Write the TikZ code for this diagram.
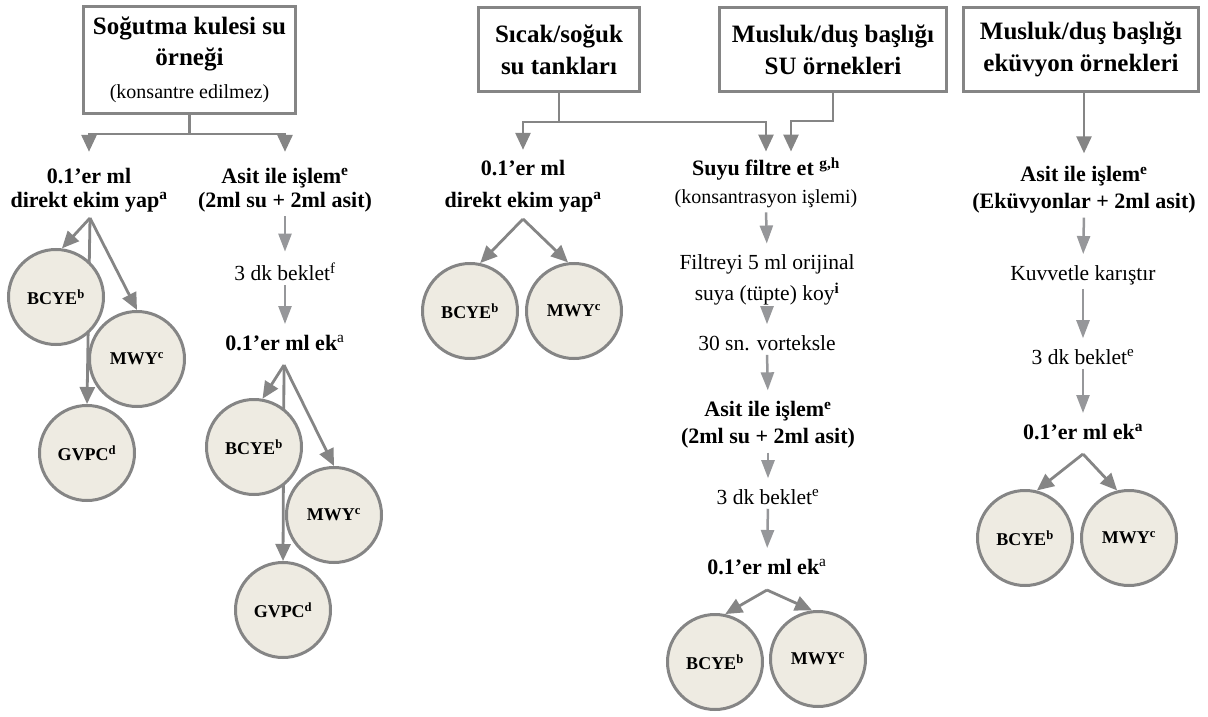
\documentclass[tikz,border=0pt]{standalone}
\usepackage{fontspec}
\setmainfont{Liberation Serif}
\usetikzlibrary{arrows.meta,backgrounds}

\definecolor{framegray}{HTML}{858585}
\definecolor{arrowgray}{HTML}{96979A}
\definecolor{platefill}{HTML}{EEEBE2}

\tikzset{
  box/.style={draw=framegray, line width=3pt, align=center, inner sep=0pt,
    font=\fontsize{25}{31}\selectfont\bfseries},
  tag/.style={align=center, inner sep=1pt, font=\fontsize{22}{25}\selectfont\bfseries},
  note/.style={align=center, inner sep=1pt, font=\fontsize{21.5}{31}\selectfont},
  plate/.style={circle, draw=framegray, line width=3pt, fill=platefill,
    minimum size=95pt, inner sep=0pt, font=\fontsize{18}{20}\selectfont\bfseries},
  conn/.style={draw=framegray, line width=2.8pt, -{Triangle[width=15pt,length=17pt]}},
  steparrow/.style={draw=arrowgray, line width=2.5pt, shorten <=3pt, shorten >=10pt,
    -{Triangle[width=13pt,length=18pt]}},
}

\begin{document}
\begin{tikzpicture}[x=1pt,y=1pt]
  \useasboundingbox (0,0) rectangle (1208,-717);

  % cooling tower
  \node[box, minimum width=212pt, minimum height=107pt] (box1) at (189.5,-60)
    {Soğutma kulesi su\\örneği\\[2pt]{\fontsize{20}{24}\selectfont\mdseries (konsantre edilmez)}};
  \node[tag, font=\fontsize{22}{24}\selectfont\bfseries] (direct1) at (89,-190)
    {0.1’er ml\\direkt ekim yap\textsuperscript{a}};
  \node[tag, font=\fontsize{22}{24}\selectfont\bfseries] (acid1) at (285,-190)
    {Asit ile işlem\textsuperscript{e}\\(2ml su + 2ml asit)};
  \node[note] (wait1) at (285,-272) {3 dk beklet\textsuperscript{f}};
  \node[tag] (plate1) at (285,-343) {0.1’er ml ek\textsuperscript{\mdseries a}};
  \coordinate (split1) at (90,-218);
  \coordinate (split2) at (284,-365);
  \node[plate] (bcye1) at (56,-297) {BCYE\textsuperscript{b}};
  \node[plate] (mwy1) at (137,-359) {MWY\textsuperscript{c}};
  \node[plate] (gvpc1) at (87,-453) {GVPC\textsuperscript{d}};
  \node[plate] (bcye2) at (254,-447) {BCYE\textsuperscript{b}};
  \node[plate] (mwy2) at (334,-515) {MWY\textsuperscript{c}};
  \node[plate] (gvpc2) at (283,-610) {GVPC\textsuperscript{d}};

  % tanks
  \node[box, minimum width=161pt, minimum height=84pt, font=\fontsize{25}{32}\selectfont\bfseries]
    (box2) at (559,-49.5) {Sıcak/soğuk\\su tankları};
  \node[tag, font=\fontsize{22}{32}\selectfont\bfseries] (direct2) at (523,-186)
    {0.1’er ml\\direkt ekim yap\textsuperscript{a}};
  \coordinate (split3) at (523,-219);
  \node[plate] (bcye3) at (470,-311) {BCYE\textsuperscript{b}};
  \node[plate] (mwy3) at (574,-311) {MWY\textsuperscript{c}};

  % tap water
  \node[box, minimum width=227pt, minimum height=84pt, font=\fontsize{25}{32}\selectfont\bfseries]
    (box3) at (833,-49.5) {Musluk/duş başlığı\\SU örnekleri};
  \node[tag, font=\fontsize{22}{28}\selectfont\bfseries] (filt) at (766,-183)
    {Suyu filtre et \textsuperscript{g,h}\\{\fontsize{20}{24}\selectfont\mdseries (konsantrasyon işlemi)}};
  \node[note] (filt2) at (767,-280) {Filtreyi 5 ml orijinal\\suya (tüpte) koy\textsuperscript{\bfseries i}};
  \node[note] (vortex) at (767,-343) {30 sn. vorteksle};
  \node[tag, font=\fontsize{22}{27}\selectfont\bfseries] (acid3) at (768,-425)
    {Asit ile işlem\textsuperscript{e}\\(2ml su + 2ml asit)};
  \node[note] (wait3) at (768,-497) {3 dk beklet\textsuperscript{e}};
  \node[tag] (plate3) at (767,-567) {0.1’er ml ek\textsuperscript{\mdseries a}};
  \coordinate (split4) at (767,-590);
  \node[plate] (bcye4) at (715,-662) {BCYE\textsuperscript{b}};
  \node[plate] (mwy4) at (818,-659) {MWY\textsuperscript{c}};

  % swabs
  \node[box, minimum width=235pt, minimum height=84pt, font=\fontsize{25}{32}\selectfont\bfseries]
    (box4) at (1081,-49.5) {Musluk/duş başlığı\\eküvyon örnekleri};
  \node[tag, font=\fontsize{22}{27}\selectfont\bfseries] (acid4) at (1084,-190)
    {Asit ile işlem\textsuperscript{e}\\(Eküvyonlar + 2ml asit)};
  \node[note] (mix) at (1083,-275) {Kuvvetle karıştır};
  \node[note] (wait4) at (1083,-357) {3 dk beklet\textsuperscript{e}};
  \node[tag] (plate4) at (1083,-432) {0.1’er ml ek\textsuperscript{a}};
  \coordinate (split5) at (1083,-454);
  \node[plate] (bcye5) at (1025,-538) {BCYE\textsuperscript{b}};
  \node[plate] (mwy5) at (1129,-538) {MWY\textsuperscript{c}};

  \begin{scope}[on background layer]
    \draw[conn] (box1.south) -- ++(0,-19) -| ([yshift=15pt]direct1.north);
    \draw[conn] (box1.south) -- ++(0,-19) -| ([yshift=15pt]acid1.north);
    \draw[steparrow] (acid1.south) -- (wait1.north);
    \draw[steparrow] (wait1.south) -- (plate1.north);
    \draw[conn] (split1) -- (bcye1.83);
    \draw[conn] (split1) -- (mwy1.north);
    \draw[conn] (split1) -- (gvpc1.north);
    \draw[conn] (split2) -- (bcye2.80);
    \draw[conn] (split2) -- (mwy2.north);
    \draw[conn] (split2) -- (gvpc2.north);

    \draw[conn] (box2.south) -- ++(0,-29) -| ([yshift=9pt]direct2.north);
    \draw[conn] (box2.south) -- ++(0,-29) -| ([yshift=5pt]filt.north);
    \draw[conn] (split3) -- (bcye3.78);
    \draw[conn] (split3) -- (mwy3.97);

    \draw[conn] (box3.south) -- ++(0,-28) -| ([xshift=25pt,yshift=5pt]filt.north);
    \draw[steparrow] (filt.south) -- (filt2.north);
    \draw[steparrow] (filt2.south) -- (vortex.north);
    \draw[steparrow] (vortex.south) -- (acid3.north);
    \draw[steparrow] (acid3.south) -- (wait3.north);
    \draw[steparrow] (wait3.south) -- (plate3.north);
    \draw[conn] (split4) -- (bcye4.78);
    \draw[conn] (split4) -- (mwy4.97);

    \draw[conn] (box4.south -| acid4.north) -- ([yshift=12pt]acid4.north);
    \draw[steparrow] (acid4.south) -- (mix.north);
    \draw[steparrow] (mix.south) -- (wait4.north);
    \draw[steparrow] (wait4.south) -- (plate4.north);
    \draw[conn] (split5) -- (bcye5.76);
    \draw[conn] (split5) -- (mwy5.104);
  \end{scope}
\end{tikzpicture}
\end{document}
